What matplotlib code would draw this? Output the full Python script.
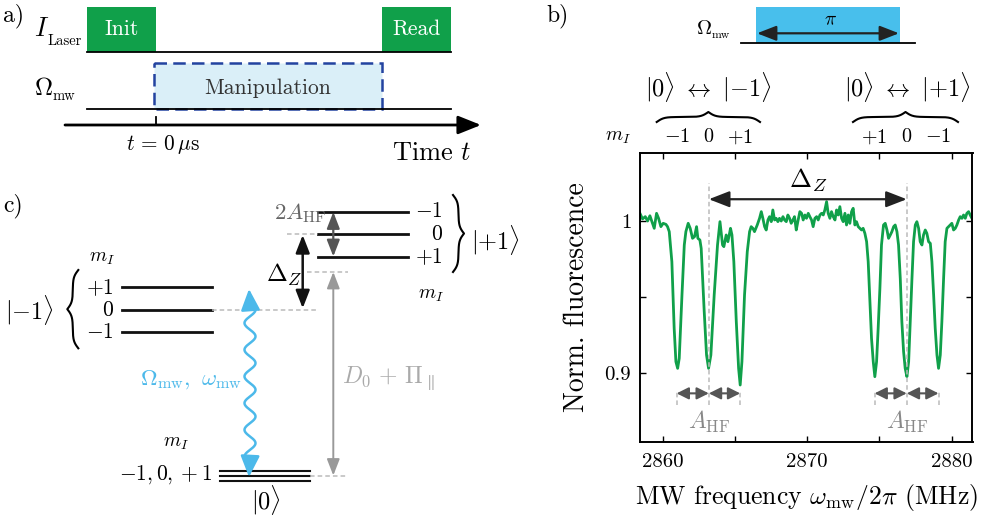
import numpy as np
import matplotlib
matplotlib.use('Agg')
import matplotlib.pyplot as plt
import matplotlib.transforms as mtransforms
from matplotlib.patches import Rectangle

plt.rcParams['font.family'] = 'serif'
plt.rcParams['font.serif'] = ['cmr10']
plt.rcParams['mathtext.fontset'] = 'cm'
plt.rcParams['axes.formatter.use_mathtext'] = True

# ODMR spectrum
freq = [2858.43, 2858.61, 2858.80, 2858.96, 2859.12, 2859.26, 2859.42, 2859.58, 2859.72, 2859.88,
        2860.04, 2860.23, 2860.34, 2860.46, 2860.64, 2860.80, 2860.92, 2861.04, 2861.15, 2861.34,
        2861.50, 2861.61, 2861.77, 2861.91, 2862.07, 2862.21, 2862.35, 2862.44, 2862.58, 2862.67,
        2862.88, 2863.04, 2863.18, 2863.34, 2863.57, 2863.80, 2863.97,
        2864.15, 2864.24, 2864.40, 2864.52, 2864.70, 2864.80, 2864.93, 2865.10, 2865.26, 2865.37,
        2865.49, 2865.67, 2865.86, 2866.02, 2866.13, 2866.25, 2866.36, 2866.55, 2866.71, 2866.83,
        2866.94, 2867.06, 2867.17, 2867.29, 2867.40, 2867.52, 2867.63, 2867.75, 2867.86, 2867.98,
        2868.09, 2868.21, 2868.33, 2868.44, 2868.56, 2868.67, 2868.79, 2868.90, 2869.02, 2869.13,
        2869.25, 2869.36,
        2869.50, 2869.62, 2869.73, 2869.85, 2869.96, 2870.08, 2870.19, 2870.31, 2870.42, 2870.54,
        2870.66, 2870.77, 2870.89, 2871.00, 2871.12, 2871.23, 2871.35, 2871.46, 2871.58, 2871.69,
        2871.81, 2871.93, 2872.04, 2872.16, 2872.27, 2872.39, 2872.50, 2872.62, 2872.73, 2872.85,
        2872.96, 2873.08, 2873.19, 2873.31, 2873.42, 2873.54, 2873.65, 2873.77, 2873.88, 2874.00,
        2874.12, 2874.23, 2874.35, 2874.46, 2874.58, 2874.69, 2874.81, 2874.92, 2875.04, 2875.15,
        2875.29, 2875.41, 2875.53, 2875.64, 2875.76, 2875.87, 2875.99, 2876.10, 2876.22, 2876.33,
        2876.45, 2876.56, 2876.68, 2876.79, 2876.91, 2877.03, 2877.14, 2877.26, 2877.37, 2877.49,
        2877.60, 2877.72, 2877.83, 2877.95, 2878.06, 2878.18, 2878.29, 2878.41, 2878.53, 2878.64,
        2878.76, 2878.87, 2878.99, 2879.10, 2879.22, 2879.33, 2879.45, 2879.56, 2879.68, 2879.79,
        2879.91, 2880.02, 2880.14, 2880.26, 2880.37, 2880.49, 2880.60, 2880.72, 2880.83, 2880.95,
        2881.06, 2881.18, 2881.29, 2881.41, 2881.52]
fluor = [1.0054, 1.0017, 1.0032, 1.0003, 1.0038, 0.9999, 0.9955, 1.0054, 1.0021, 0.9966,
         0.9988, 0.9981, 0.9966, 0.9933, 0.9735, 0.9295, 0.9075, 0.9031, 0.9097, 0.9515,
         0.9845, 0.9933, 0.9988, 0.9955, 0.9889, 0.9900, 0.9966, 0.9889, 0.9878, 0.9823,
         0.9405, 0.9119, 0.9031, 0.9119, 0.9515, 0.9845, 0.9999,
         0.9845, 0.9834, 0.9911, 0.9867, 0.9955, 0.9911, 0.9735, 0.9339, 0.9031, 0.8921,
         0.9075, 0.9515, 0.9801, 0.9933, 0.9966, 0.9955, 0.9933, 0.9977, 1.0021, 1.0065,
         1.0021, 0.9966, 0.9944, 1.0010, 1.0032, 0.9999, 1.0076, 1.0010, 1.0021, 0.9999,
         1.0021, 1.0003, 1.0032, 1.0010, 0.9999, 1.0043, 1.0021, 0.9988, 1.0010, 1.0032,
         0.9944, 0.9999,
         1.0065, 1.0054, 1.0010, 1.0043, 1.0021, 1.0054, 1.0032, 1.0010, 0.9966, 1.0021,
         1.0032, 1.0010, 1.0043, 1.0054, 1.0043, 1.0076, 1.0131, 1.0054, 1.0021, 1.0065,
         1.0032, 1.0010, 1.0076, 1.0043, 1.0098, 1.0021, 0.9999, 1.0054, 0.9977, 1.0043,
         0.9988, 1.0065, 1.0087, 0.9977, 0.9999, 0.9966, 0.9955, 0.9944, 0.9955, 0.9922,
         0.9867, 0.9735, 0.9471, 0.9229, 0.9075, 0.8976, 0.9075, 0.9295, 0.9559, 0.9845,
         0.9977, 0.9988, 0.9944, 0.9889, 0.9911, 0.9933, 0.9966, 0.9977, 0.9933, 0.9845,
         0.9625, 0.9339, 0.9141, 0.9031, 0.8976, 0.9075, 0.9339, 0.9625, 0.9867, 0.9977,
         0.9999, 0.9955, 0.9867, 0.9845, 0.9911, 0.9944, 0.9922, 0.9867, 0.9856, 0.9735,
         0.9515, 0.9295, 0.9119, 0.9031, 0.9119, 0.9339, 0.9625, 0.9867, 0.9955, 0.9966,
         0.9977, 0.9988, 0.9944, 0.9955, 0.9977, 1.0010, 1.0032, 1.0021, 1.0043, 1.0021,
         1.0054, 1.0065, 1.0043, 1.0021, 1.0010]

lines_left = [2860.97, 2863.20, 2865.37]    # |0> <-> |-1>, m_I = -1, 0, +1
lines_right = [2874.67, 2876.90, 2879.10]   # |0> <-> |+1>, m_I = +1, 0, -1
mI_left = ['$-1$', '$0$', '$+1$']
mI_right = ['$+1$', '$0$', '$-1$']
xticks = [2860, 2865, 2870, 2875, 2880]
xticklabels = ['2860', '', '2870', '', '2880']
yticks = [0.9, 0.95, 1.0]
yticklabels = ['0.9', '', '1']

green = '#10a04a'
blue = '#4cb9ea'
dgrey = '#555555'
lgrey = '#bbbbbb'


def brace(ax, p0, p1, width, beta=0.28, **kw):
    p0 = np.array(p0, float)
    p1 = np.array(p1, float)
    L = np.linalg.norm(p1 - p0)
    u = (p1 - p0) / L
    n = np.array([-u[1], u[0]])
    s = np.linspace(0, L, 301)
    h = s[:151]
    yh = 1 / (1 + np.exp(-beta * (h - h[0]))) + 1 / (1 + np.exp(-beta * (h - h[-1])))
    y = np.concatenate((yh, yh[-2::-1])) - 0.5
    pts = p0[None, :] + s[:, None] * u[None, :] + (y * width)[:, None] * n[None, :]
    ax.plot(pts[:, 0], pts[:, 1], **kw)


def darrow(ax, p0, p1, color, lw=1.4, ms=11, hl=0.9, hw=0.35, **kw):
    ax.annotate('', xy=p1, xytext=p0,
                arrowprops=dict(arrowstyle='<|-|>,head_length=%g,head_width=%g' % (hl, hw),
                                color=color, lw=lw, shrinkA=0, shrinkB=0,
                                mutation_scale=ms), **kw)


fig = plt.figure(figsize=(9.89, 5.16), dpi=100)
ov = fig.add_axes([0, 0, 1, 1], zorder=0)
ov.set_xlim(0, 989)
ov.set_ylim(516, 0)
ov.axis('off')

# ---------- a) pulse sequence
ov.text(3, 16, 'a)', fontsize=17, va='center')
ov.add_patch(Rectangle((87, 6.7), 68.7, 45.6, color=green, lw=0))
ov.add_patch(Rectangle((382.3, 6.7), 68.4, 45.6, color=green, lw=0))
ov.text(121.3, 29, 'Init', color='white', ha='center', va='center', fontsize=15.5)
ov.text(416.5, 29, 'Read', color='white', ha='center', va='center', fontsize=15.5)
ov.plot([87, 450.7], [52.3, 52.3], color='k', lw=1.3)
ov.plot([87, 450.7], [109, 109], color='k', lw=1.3)
ov.add_patch(Rectangle((154.3, 62.7), 228, 46.3, facecolor='#daeff8',
                       edgecolor='#2343a0', lw=1.8, ls=(0, (5, 2.5))))
ov.text(268, 88, 'Manipulation', color='#333333', ha='center', va='center', fontsize=15.5)
ov.text(34, 36, '$I$', fontsize=19, va='baseline')
ov.text(47, 45, 'Laser', fontsize=10.5, va='baseline')
ov.text(34, 95, r'$\Omega$', fontsize=18, va='baseline')
ov.text(53, 100, 'mw', fontsize=10.5, va='baseline')
ov.annotate('', xy=(481, 125), xytext=(65, 125),
            arrowprops=dict(arrowstyle='-|>,head_length=1.0,head_width=0.4', color='k',
                            lw=2, shrinkA=0, shrinkB=0, mutation_scale=14))
ov.plot([155.7, 155.7], [117, 125], color='k', lw=1.3)
ov.text(126, 144, r'$t\, =\, 0\,\mathrm{\mu s}$', fontsize=15.3, va='center')
ov.text(392, 153, 'Time $t$', fontsize=19, va='center')

# ---------- b) pulse + labels
ov.text(546, 16, 'b)', fontsize=17, va='center')
ov.add_patch(Rectangle((756, 6.7), 144, 36.6, color='#48bfec', lw=0))
ov.plot([741, 915], [43.3, 43.3], color='k', lw=1.3)
darrow(ov, (757, 33.3), (899, 33.3), '#222222', lw=1.6, ms=13)
ov.text(830.7, 20, r'$\pi$', fontsize=14, ha='center', va='center')
ov.text(696, 34, r'$\Omega$', fontsize=15, va='baseline')
ov.text(712, 38, 'mw', fontsize=8.5, va='baseline')
ov.text(708, 87, r'$|0\rangle\ \leftrightarrow\ |{-1}\rangle$', fontsize=17.5, ha='center', va='center')
ov.text(906.7, 87, r'$|0\rangle\ \leftrightarrow\ |{+1}\rangle$', fontsize=17.5, ha='center', va='center')
brace(ov, (656.7, 122), (760, 122), -10, color='k', lw=1.5)
brace(ov, (853, 122), (958, 122), -10, color='k', lw=1.5)
ov.text(605, 137, '$m_I$', fontsize=14, va='center')

# ---------- c) level scheme
ov.text(3, 206, 'c)', fontsize=17, va='center')
for yy in [211.7, 234, 256.7]:
    ov.plot([318.3, 408.3], [yy, yy], color='#111111', lw=2)
for yy in [287.3, 310, 332.3]:
    ov.plot([121.7, 211.7], [yy, yy], color='#111111', lw=2)
for yy in [471, 476, 481]:
    ov.plot([220, 310], [yy, yy], color='#111111', lw=1.5)
for lab, yy in zip(['$-1$', '$0$', '$+1$'], [211.7, 234, 256.7]):
    ov.text(443, yy, lab, fontsize=15.5, ha='right', va='center')
for lab, yy in zip(['$+1$', '$0$', '$-1$'], [287.3, 310, 332.3]):
    ov.text(114, yy, lab, fontsize=15.5, ha='right', va='center')
brace(ov, (453, 195), (453, 272), -11, color='k', lw=1.5)
brace(ov, (78.3, 270), (78.3, 348.3), 11, color='k', lw=1.5)
ov.text(471, 240, r'$|{+1}\rangle$', fontsize=17.5, va='center')
ov.text(5, 310, r'$|{-1}\rangle$', fontsize=17.5, va='center')
ov.text(418, 295, '$m_I$', fontsize=14, va='center')
ov.text(89, 258, '$m_I$', fontsize=14, va='center')
ov.text(163, 443, '$m_I$', fontsize=14, va='center')
ov.text(212, 475, '$-1, 0, +1$', fontsize=15.5, ha='right', va='center')
ov.text(251, 500, r'$|0\rangle$', fontsize=17.5, va='center')

dash = dict(color=lgrey, lw=1.1, ls=(0, (3, 2)))
ov.plot([286.7, 318], [233.5, 233.5], **dash)
ov.plot([306.7, 348.3], [271.7, 271.7], **dash)
ov.plot([211.7, 318.3], [310, 310], **dash)
ov.plot([310, 346.7], [476, 476], **dash)

darrow(ov, (333.3, 212), (333.3, 256.5), dgrey, lw=1.6, ms=11)
ov.text(326, 213, r'$2A_{\mathrm{HF}}$', color='#666666', fontsize=16.5, ha='right', va='center')
darrow(ov, (302.7, 235), (302.7, 308.3), '#111111', lw=1.8, ms=12)
ov.text(266, 275, r'$\Delta_Z$', fontsize=18, va='center')
darrow(ov, (333.3, 272), (333.3, 475.5), '#999999', lw=1.4, ms=11)
ov.text(342, 378, r'$D_0\,+\,\Pi_{\parallel}$', color='#aaaaaa', fontsize=17, va='center')

# microwave drive (wavy double arrow)
wy = np.linspace(303, 463, 400)
wx = 250 + 5.5 * np.sin(2 * np.pi * (wy - 303) / 26.7)
ov.plot(wx, wy, color=blue, lw=1.8)
ov.annotate('', xy=(249, 289), xytext=(wx[0], wy[0]),
            arrowprops=dict(arrowstyle='-|>,head_length=1.0,head_width=0.45', color=blue,
                            lw=1.8, shrinkA=0, shrinkB=0, mutation_scale=13))
ov.annotate('', xy=(249, 477), xytext=(wx[-1], wy[-1]),
            arrowprops=dict(arrowstyle='-|>,head_length=1.0,head_width=0.45', color=blue,
                            lw=1.8, shrinkA=0, shrinkB=0, mutation_scale=13))
ov.text(140, 380, r'$\Omega_{\mathrm{mw}},\ \omega_{\mathrm{mw}}$', color=blue, fontsize=16.5, va='center')

# ---------- b) spectrum
ax = fig.add_axes([639.5 / 989, 74 / 516, 333 / 989, 289 / 516], zorder=1)
ax.patch.set_alpha(0)
ax.plot(freq, fluor, color=green, lw=2)
ax.set_xlim(2858.4, 2881.45)
ax.set_ylim(0.8545, 1.0452)
ax.set_xticks(xticks)
ax.set_xticklabels(xticklabels)
ax.set_yticks(yticks)
ax.set_yticklabels(yticklabels)
ax.tick_params(direction='in', top=True, right=True, length=4, width=1, labelsize=15)
ax.tick_params(axis='x', pad=8)
ax.tick_params(axis='y', pad=6)
for sp in ax.spines.values():
    sp.set_linewidth(1.4)
ax.set_xlabel(r'MW frequency $\omega_{\mathrm{mw}}/2\pi$ (MHz)', fontsize=18.5)
ax.set_ylabel('Norm. fluorescence', fontsize=20)
ax.xaxis.set_label_coords(0.5, -0.14)
ax.yaxis.set_label_coords(-0.15, 0.5)

pdash = dict(color=lgrey, lw=1.1, ls=(0, (3, 2)), clip_on=False)
for x in [lines_left[1], lines_right[1]]:
    ax.plot([x, x], [0.879, 1.0254], **pdash)
for x in [lines_left[0], lines_left[2], lines_right[0], lines_right[2]]:
    ax.plot([x, x], [0.879, 0.889], **pdash)
darrow(ax, (lines_left[1], 1.0147), (lines_right[1], 1.0147), '#222222', lw=1.6, ms=14)
ax.text(0.5 * (lines_left[1] + lines_right[1]), 1.027, r'$\Delta_Z$', fontsize=19,
        ha='center', va='center')
for grp in [lines_left, lines_right]:
    for i in range(2):
        darrow(ax, (grp[i], 0.8866), (grp[i + 1], 0.8866), dgrey, lw=1.5, ms=9, hl=0.8, hw=0.4)
    ax.text(grp[1], 0.868, r'$A_{\mathrm{HF}}$', color='#888888', fontsize=17,
            ha='center', va='center')

# m_I labels above the spectrum, aligned with the lines
trans = mtransforms.blended_transform_factory(ax.transData, ov.transData)
for x, lab in zip(lines_left + lines_right, mI_left + mI_right):
    ov.text(x, 137, lab, transform=trans, fontsize=14.5, ha='center', va='center')

fig.savefig('out.png', dpi=100)
